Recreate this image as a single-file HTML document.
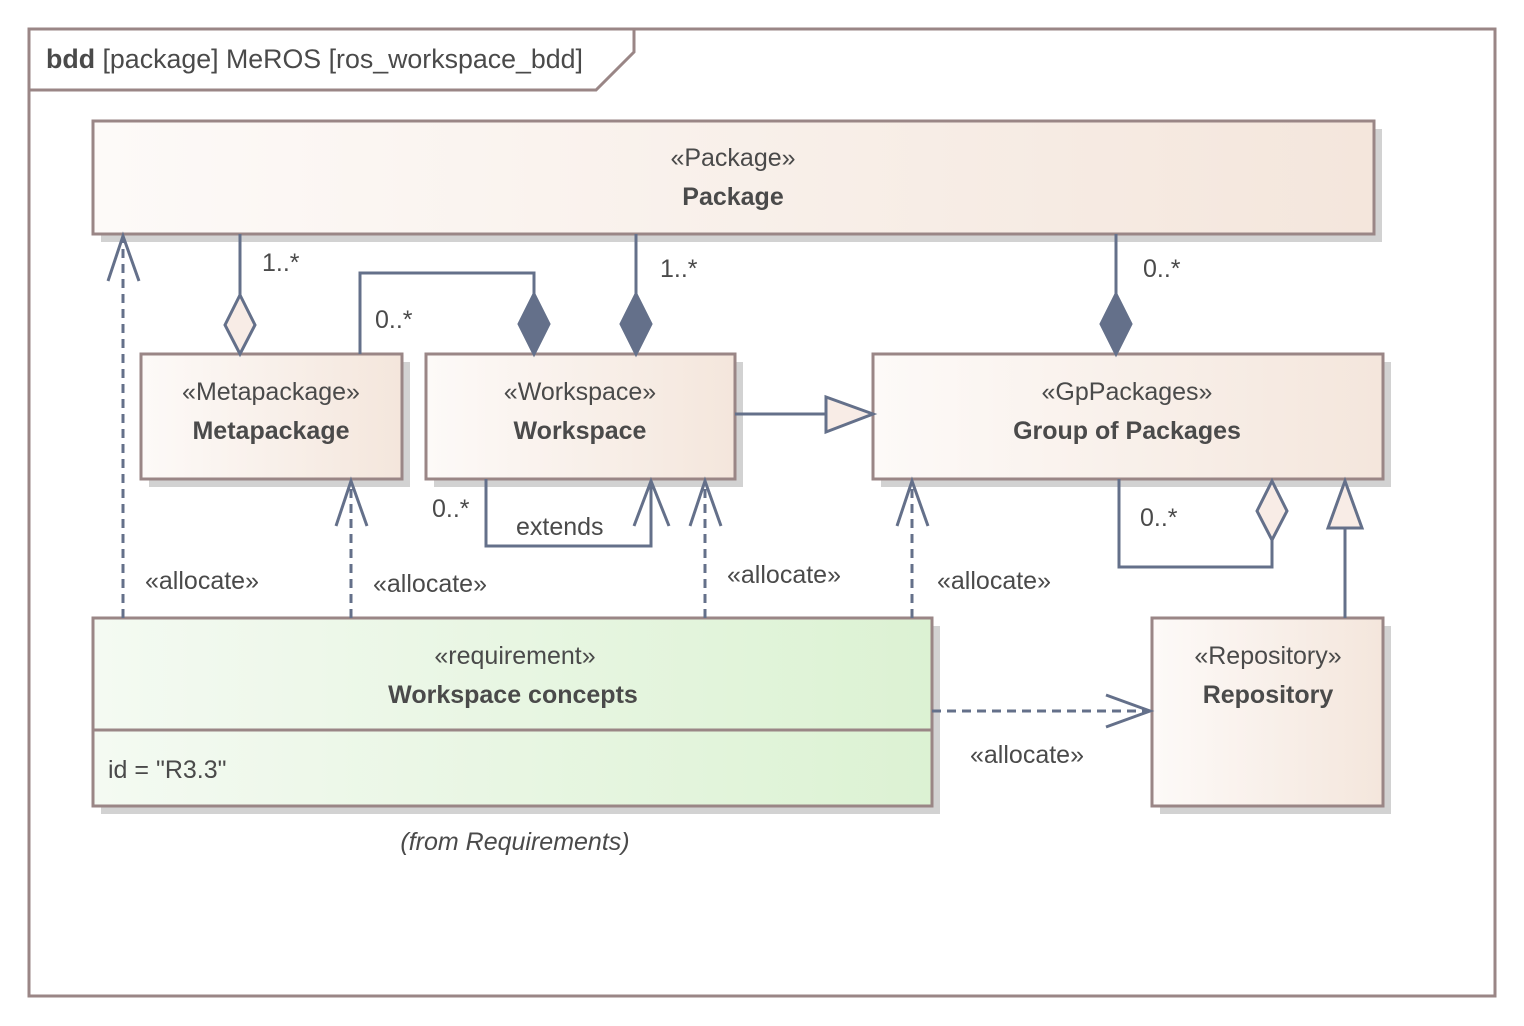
<!DOCTYPE html>
<html><head><meta charset="utf-8"><style>
html,body{margin:0;padding:0;background:#fff;}
svg{display:block;font-family:"Liberation Sans",sans-serif;}
</style></head><body>
<svg width="1524" height="1026" viewBox="0 0 1524 1026" xmlns="http://www.w3.org/2000/svg">
<defs>
<linearGradient id="g" x1="0" x2="1" y1="0" y2="0"><stop offset="0" stop-color="#fdfaf8"/><stop offset="1" stop-color="#f4e6dc"/></linearGradient>
<linearGradient id="gr" x1="0" x2="1" y1="0" y2="0"><stop offset="0" stop-color="#f4faf2"/><stop offset="1" stop-color="#dcf2d3"/></linearGradient>
</defs>
<rect x="0" y="0" width="1524" height="1026" fill="#fff"/>
<rect x="29" y="29" width="1466" height="967" fill="none" stroke="#9a8686" stroke-width="3"/>
<path d="M30 90 H596 L634 52 V30" fill="none" stroke="#9a8686" stroke-width="3"/>
<text x="46" y="68" font-size="27" fill="#4a4a4a" textLength="537" lengthAdjust="spacingAndGlyphs"><tspan font-weight="bold">bdd</tspan> [package] MeROS [ros_workspace_bdd]</text>

<g fill="#d2d2d2">
<rect x="101" y="129" width="1281" height="113"/>
<rect x="149" y="362" width="261" height="125"/>
<rect x="434" y="362" width="309" height="125"/>
<rect x="881" y="362" width="510" height="125"/>
<rect x="101" y="626" width="839" height="188"/>
<rect x="1160" y="626" width="231" height="188"/>
</g>
<g stroke="#9a8686" stroke-width="3">
<rect x="93" y="121" width="1281" height="113" fill="url(#g)"/>
<rect x="141" y="354" width="261" height="125" fill="url(#g)"/>
<rect x="426" y="354" width="309" height="125" fill="url(#g)"/>
<rect x="873" y="354" width="510" height="125" fill="url(#g)"/>
<rect x="93" y="618" width="839" height="188" fill="url(#gr)"/>
<line x1="93" y1="730" x2="932" y2="730"/>
<rect x="1152" y="618" width="231" height="188" fill="url(#g)"/>
</g>
<g font-size="25" fill="#4a4a4a" text-anchor="middle">
<text x="733" y="166">«Package»</text><text x="733" y="205" font-weight="bold">Package</text>
<text x="271" y="400">«Metapackage»</text><text x="271" y="439" font-weight="bold">Metapackage</text>
<text x="580" y="400">«Workspace»</text><text x="580" y="439" font-weight="bold">Workspace</text>
<text x="1127" y="400">«GpPackages»</text><text x="1127" y="439" font-weight="bold">Group of Packages</text>
<text x="515" y="664">«requirement»</text><text x="513" y="703" font-weight="bold">Workspace concepts</text>
<text x="1268" y="664">«Repository»</text><text x="1268" y="703" font-weight="bold">Repository</text>
<text x="515" y="850" font-style="italic">(from Requirements)</text>
</g>
<g font-size="25" fill="#4a4a4a">
<text x="108" y="778">id = "R3.3"</text>
<text x="262" y="271">1..*</text>
<text x="660" y="277">1..*</text>
<text x="375" y="328">0..*</text>
<text x="1143" y="277">0..*</text>
<text x="432" y="517">0..*</text>
<text x="516" y="535">extends</text>
<text x="1140" y="526">0..*</text>
<text x="145" y="589">«allocate»</text>
<text x="373" y="592">«allocate»</text>
<text x="727" y="583">«allocate»</text>
<text x="937" y="589">«allocate»</text>
<text x="970" y="763">«allocate»</text>
</g>
<g stroke="#64708a" stroke-width="3" fill="none">
<line x1="240" y1="234" x2="240" y2="295"/>
<polygon points="240,295 255,325 240,354 225,325" fill="#f8ece6"/>
<line x1="636" y1="234" x2="636" y2="294"/>
<polygon points="636,294 651,324 636,354 621,324" fill="#64708a"/>
<path d="M360 354 V273 H534 V294"/>
<polygon points="534,294 549,324 534,354 519,324" fill="#64708a"/>
<line x1="1116" y1="234" x2="1116" y2="294"/>
<polygon points="1116,294 1131,324 1116,354 1101,324" fill="#64708a"/>
<line x1="735" y1="414" x2="826" y2="414"/>
<polygon points="826,397 826,432 873,414" fill="#f8ece6"/>
<path d="M486 479 V546 H651 V481"/>
<path d="M634 526 L651 481 L669 526"/>
<path d="M1119 479 V567 H1272 V540"/>
<polygon points="1272,481 1287,511 1272,540 1257,511" fill="#f8ece6"/>
<line x1="1345" y1="618" x2="1345" y2="528"/>
<polygon points="1328,528 1362,528 1345,481" fill="#f8ece6"/>
<g stroke-dasharray="9,6">
<line x1="123" y1="618" x2="123" y2="237"/>
<line x1="351" y1="618" x2="351" y2="482"/>
<line x1="705" y1="618" x2="705" y2="482"/>
<line x1="912" y1="618" x2="912" y2="482"/>
<line x1="932" y1="711" x2="1149" y2="711"/>
</g>
<path d="M108 281 L123 236 L139 281"/>
<path d="M336 526 L351 481 L367 526"/>
<path d="M690 526 L705 481 L721 526"/>
<path d="M897 526 L912 481 L928 526"/>
<path d="M1106 695 L1150 711 L1106 727"/>
</g>
</svg>
</body></html>
